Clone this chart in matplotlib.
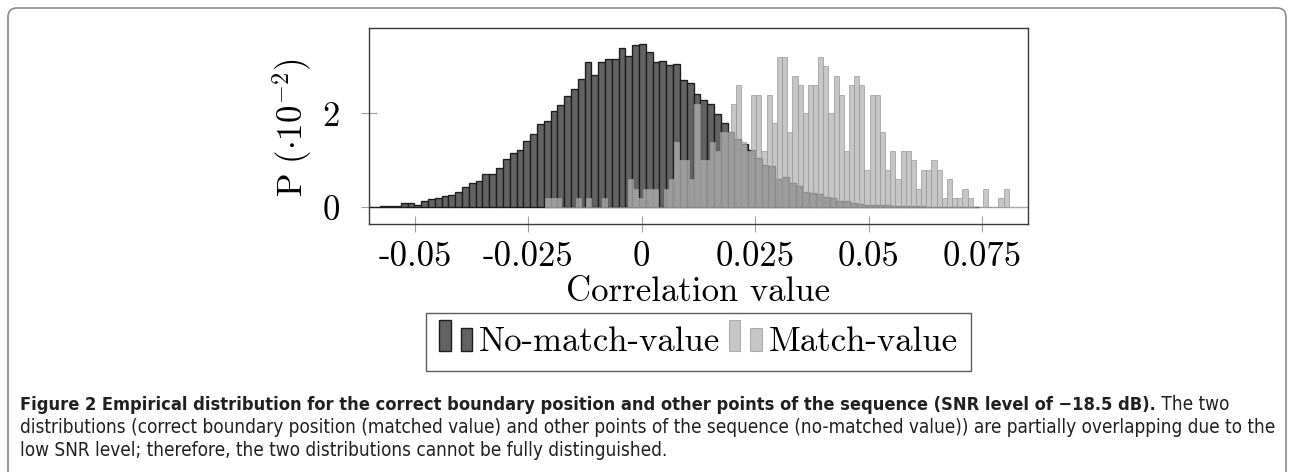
import numpy as np
import matplotlib
matplotlib.use("Agg")
import matplotlib.pyplot as plt
from matplotlib import font_manager
from matplotlib.patches import Rectangle, FancyBboxPatch
from matplotlib.legend_handler import HandlerBase
from matplotlib.font_manager import FontProperties

# ---------------- data (P in units of 10^-2) ----------------
x_ticks = [-0.05, -0.025, 0, 0.025, 0.05, 0.075]
x_tick_labels = ["-0.05", "-0.025", "0", "0.025", "0.05", "0.075"]
y_ticks = [0, 2]
y_tick_labels = ["0", "2"]

nomatch_label = "No-match-value"
nomatch_bin_start = -0.0606
nomatch_bin_width = 0.0015
nomatch_values = [
    0.01, 0.01, 0.02, 0.02, 0.03,
    0.085, 0.085, 0.057, 0.128, 0.184, 0.206, 0.234, 0.27, 0.326, 0.44,
    0.525, 0.56, 0.70, 0.716, 0.837, 1.02, 1.16, 1.22, 1.42, 1.57,
    1.78, 1.83, 2.06, 2.18, 2.38, 2.52, 2.73, 3.09, 2.81, 3.09,
    3.16, 3.16, 3.39, 3.22, 3.45, 3.48, 3.30, 3.09, 3.12, 3.04,
    3.06, 2.70, 2.64,
    2.41, 2.28, 2.19, 1.98, 1.79, 1.60, 1.45, 1.35, 1.22, 1.04,
    0.91, 0.87, 0.60, 0.65, 0.52, 0.46, 0.33, 0.31, 0.28, 0.23,
    0.19, 0.135, 0.14, 0.10, 0.07, 0.06, 0.06, 0.05, 0.04, 0.035,
    0.03, 0.03, 0.02, 0.02, 0.015, 0.01, 0.01, 0.005, 0.005, 0.005,
    0.005, 0.005,
]

match_label = "Match-value"
match_bin_start = -0.0213
match_bin_width = 0.001135
match_values = [
    0.2, 0.2, 0.2, 0.0, 0.0, 0.0, 0.2, 0.0, 0.2, 0.0,
    0.0, 0.2, 0.0, 0.0, 0.0, 0.0, 0.6, 0.4, 0.2, 0.4,
    0.4, 0.4, 0.0, 0.4, 0.6, 1.4, 1.0, 1.0, 0.6, 2.2,
    1.0, 1.0, 1.4, 1.2, 1.6, 1.6, 2.2, 2.6, 1.4, 1.2,
    2.4, 2.4, 1.2, 2.4, 1.8, 3.2, 3.2, 1.6, 2.8, 2.6,
    2.0, 2.6, 2.6, 3.2, 3.0, 2.0, 2.8, 2.4, 1.2, 2.6,
    2.8, 2.6, 0.8, 2.4, 2.4, 1.6, 0.8, 1.2, 0.6, 1.2,
    1.2, 1.0, 0.4, 0.8, 0.8, 1.0, 0.8, 0.2, 0.6, 0.2,
    0.2, 0.4, 0.2, 0.0, 0.0, 0.4, 0.0, 0.0, 0.2, 0.4,
]

x_label = "Correlation value"
y_label = r"$\mathrm{P}\ (\cdot 10^{-2})$"

caption_bold = ("Figure 2 Empirical distribution for the correct boundary position and other "
                "points of the sequence (SNR level of \u221218.5 dB).")
caption_rest1 = " The two"
caption_line2 = ("distributions (correct boundary position (matched value) and other points of the "
                 "sequence (no-matched value)) are partially overlapping due to the")
caption_line3 = "low SNR level; therefore, the two distributions cannot be fully distinguished."

# ---------------- styling ----------------
W, H = 1294, 472
plt.rcParams["mathtext.fontset"] = "cm"
names = {f.name for f in font_manager.fontManager.ttflist}
serif = "cmr10" if "cmr10" in names else "DejaVu Serif"
FS = 25

dark_fc, dark_ec = "#636363", "#1c1c1c"
light_fc, light_ec, light_alpha = "#b2b2b2", "#9a9a9a", 0.74

fig = plt.figure(figsize=(W / 100, H / 100), dpi=100)


def fx(px):
    return px / W


def fy(py):
    return 1 - py / H


# outer rounded frame
frame = FancyBboxPatch((fx(8), fy(500)), fx(1286) - fx(8), fy(8) - fy(500),
                       boxstyle="round,pad=0,rounding_size=%f" % (9 / W),
                       mutation_aspect=W / H, transform=fig.transFigure,
                       facecolor="none", edgecolor="#8a8a8a", linewidth=1.2)
fig.add_artist(frame)

ax = fig.add_axes([fx(369), fy(224), fx(1028) - fx(369), fy(28) - fy(224)])

nm_edges = nomatch_bin_start + nomatch_bin_width * np.arange(len(nomatch_values))
m_edges = match_bin_start + match_bin_width * np.arange(len(match_values))

ax.axhline(0, color="#a8a8a8", lw=1.0, zorder=1)
ax.bar(nm_edges, nomatch_values, width=nomatch_bin_width, align="edge",
       facecolor=dark_fc, edgecolor=dark_ec, linewidth=0.95, zorder=2)
ax.bar(m_edges, match_values, width=match_bin_width, align="edge",
       facecolor=light_fc, edgecolor=light_ec, linewidth=0.7, alpha=light_alpha, zorder=3)

ax.set_xlim(-0.0601, 0.0851)
ax.set_ylim(-0.355, 3.817)
for s in ax.spines.values():
    s.set_color("#3a3a3a")
    s.set_linewidth(1.0)
    s.set_zorder(5)

ax.set_xticks(x_ticks)
ax.set_xticklabels(x_tick_labels, fontfamily=serif, fontsize=FS)
ax.set_yticks(y_ticks)
ax.set_yticklabels(y_tick_labels, fontfamily=serif, fontsize=FS)
ax.tick_params(axis="both", direction="inout", length=12, width=0.8, color="#a0a0a0")
ax.tick_params(axis="x", pad=6.5)
ax.tick_params(axis="y", pad=15)

ax.set_xlabel(x_label, fontfamily=serif, fontsize=FS, va="baseline")
ax.xaxis.set_label_coords(0.5, (224 - 301) / 196)
ax.set_ylabel(y_label, fontsize=FS, va="center")
ax.yaxis.set_label_coords((292 - 369) / 659, 0.492)


# legend with two-bar handles
class TwoBarHandler(HandlerBase):
    def create_artists(self, legend, orig_handle, xdescent, ydescent,
                       width, height, fontsize, trans):
        bw = 0.33 * fontsize
        kw = dict(facecolor=orig_handle.get_facecolor(),
                  edgecolor=orig_handle.get_edgecolor(),
                  linewidth=orig_handle.get_linewidth(), transform=trans)
        r1 = Rectangle((-xdescent, -ydescent), bw, 0.89 * fontsize, **kw)
        r2 = Rectangle((-xdescent + width - bw, -ydescent), bw, 0.66 * fontsize, **kw)
        return [r1, r2]


h_nm = Rectangle((0, 0), 1, 1, facecolor=dark_fc, edgecolor=dark_ec, linewidth=1.0)
h_m = Rectangle((0, 0), 1, 1, facecolor=light_fc, edgecolor=light_ec, linewidth=0.8,
                alpha=light_alpha)
leg = fig.legend([h_nm, h_m], [nomatch_label, match_label],
                 handler_map={Rectangle: TwoBarHandler()}, ncol=2, loc="center",
                 bbox_to_anchor=(fx(698.5), fy(342)),
                 prop={"family": serif, "size": FS}, frameon=True, fancybox=False,
                 handlelength=0.95, handleheight=0.7, handletextpad=0.2,
                 columnspacing=0.25, borderpad=0.38)
leg.get_frame().set_edgecolor("#333333")
leg.get_frame().set_linewidth(1.0)

# caption fonts: prefer a condensed/narrow sans
entries = font_manager.fontManager.ttflist


def pick(weight_bold):
    cands = []
    for e in entries:
        nm = e.name.lower()
        narrow = ("narrow" in nm or "condensed" in nm or "condensed" in str(e.stretch))
        if not narrow or e.style != "normal":
            continue
        w = e.weight if isinstance(e.weight, int) else 400
        if weight_bold and w >= 600:
            cands.append((abs(w - 650), e.fname))
        if not weight_bold and 350 <= w <= 450:
            cands.append((abs(w - 400), e.fname))
    if cands:
        cands.sort()
        return FontProperties(fname=cands[0][1])
    for fam in ["Liberation Sans", "Roboto", "Open Sans", "DejaVu Sans"]:
        if fam in names:
            return FontProperties(family=fam, weight="bold" if weight_bold else "normal")
    return FontProperties(weight="bold" if weight_bold else "normal")


fp_reg = pick(False)
fp_bold = pick(True)
cap_color = "#231f20"
renderer = fig.canvas.get_renderer()


def fit_text(x, y, s, fp, target_w):
    fp = fp.copy()
    fp.set_size(12)
    t = fig.text(fx(x), fy(y), s, fontproperties=fp, color=cap_color, va="baseline", ha="left")
    w = t.get_window_extent(renderer).width
    fp.set_size(12 * target_w / w)
    t.set_fontproperties(fp)
    return t, fp.get_size()


t2, size_reg = fit_text(20, 433, caption_line2, fp_reg, 1253)
t1, size_bold = fit_text(20, 410, caption_bold, fp_bold, 1128)
fpr = fp_reg.copy()
fpr.set_size(size_reg)
tb_right = t1.get_window_extent(renderer).x1
fig.text(tb_right / W, fy(410), caption_rest1, fontproperties=fpr, color=cap_color,
         va="baseline", ha="left")
fig.text(fx(20), fy(456), caption_line3, fontproperties=fpr, color=cap_color,
         va="baseline", ha="left")

fig.savefig("out.png", dpi=100)
